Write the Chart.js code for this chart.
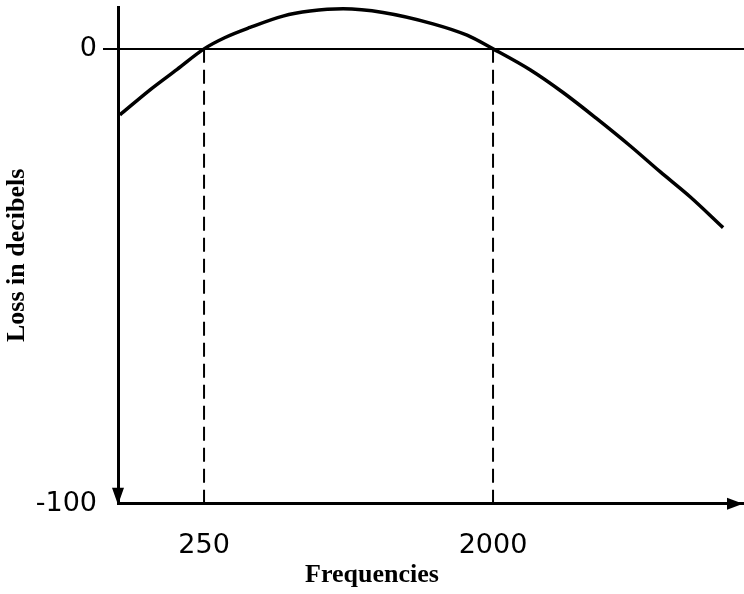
<!DOCTYPE html>
<html>
<head>
<meta charset="utf-8">
<script src="https://cdn.jsdelivr.net/npm/chart.js@4.4.1/dist/chart.umd.min.js"></script>
<style>
  html, body { margin: 0; padding: 0; background: #fff; }
  canvas { display: block; }
</style>
</head>
<body>
<canvas id="c" width="744" height="594"></canvas>
<script>
// Frequencies (Hz) along the curve and loss in decibels
const frequencies = [136.5, 169.5, 206, 250, 291, 348, 441, 536, 680, 906, 1298, 1659, 2000, 2610, 3310, 4228, 5360, 6652, 8255, 10470];
const lossDb      = [-14.5, -9.0, -4.5, 0, 2.5, 4.7, 7.2, 8.3, 8.8, 8.0, 5.5, 3.0, 0, -4.6, -9.6, -15.4, -21.3, -27.0, -32.5, -39.3];
// Marked crossover frequencies (dashed lines)
const markedFreqs = [250, 2000];
// Tick labels
const xTicks = [250, 2000];
const yTicks = [0, -100];
const xMin = 134.6, xMax = 12170;
const yMin = -100, yMax = 9.2;

const curve = frequencies.map((f, i) => ({ x: f, y: lossDb[i] }));
const dashSets = markedFreqs.map(f => ({
  data: [{ x: f, y: 0 }, { x: f, y: yMin }],
  borderColor: '#000',
  borderWidth: 2,
  borderDash: [14, 7],
  pointRadius: 0,
  fill: false,
  tension: 0
}));

const arrows = {
  id: 'arrows',
  afterDraw(chart) {
    const { ctx, chartArea } = chart;
    const xs = chart.scales.x, ys = chart.scales.y;
    ctx.save();
    ctx.fillStyle = '#000';
    // down arrow at bottom of y axis
    const ax = ys.right, ay = chartArea.bottom + 1;
    ctx.beginPath();
    ctx.moveTo(ax, ay);
    ctx.lineTo(ax - 6, ay - 17);
    ctx.lineTo(ax + 6, ay - 17);
    ctx.closePath();
    ctx.fill();
    // right arrow at end of x axis
    const bx = chartArea.right - 1, by = xs.top;
    ctx.beginPath();
    ctx.moveTo(bx, by);
    ctx.lineTo(bx - 16, by - 6);
    ctx.lineTo(bx - 16, by + 6);
    ctx.closePath();
    ctx.fill();
    ctx.restore();
  }
};

new Chart(document.getElementById('c'), {
  type: 'line',
  data: {
    datasets: [{
      data: curve,
      borderColor: '#000',
      borderWidth: 3.5,
      pointRadius: 0,
      fill: false,
      cubicInterpolationMode: 'monotone'
    }, ...dashSets]
  },
  options: {
    responsive: false,
    animation: false,
    events: [],
    layout: { padding: { top: 7, left: 0, right: 0, bottom: 0 } },
    plugins: {
      legend: { display: false },
      tooltip: { enabled: false },
      title: {
        display: true,
        position: 'bottom',
        text: 'Frequencies',
        color: '#000',
        font: { family: 'Liberation Serif', weight: 'bold', size: 26, lineHeight: 1.2 },
        padding: { top: 0, bottom: 3 }
      }
    },
    scales: {
      x: {
        type: 'logarithmic',
        min: xMin,
        max: xMax,
        bounds: 'data',
        afterBuildTicks: s => { s.ticks = xTicks.map(v => ({ value: v })); },
        afterFit: s => { s.height = 56; s.paddingLeft = 0; s.paddingRight = 0; },
        grid: { display: false, drawTicks: false },
        border: { display: true, color: '#000', width: 3 },
        ticks: {
          autoSkip: false,
          maxRotation: 0,
          padding: 26,
          color: '#000',
          font: { family: 'DejaVu Sans', size: 27 },
          callback: v => String(v)
        }
      },
      y: {
        type: 'linear',
        min: yMin,
        max: yMax,
        bounds: 'data',
        afterBuildTicks: s => { s.ticks = yTicks.map(v => ({ value: v })); },
        afterFit: s => { s.width = 118; s.paddingTop = 0; s.paddingBottom = 0; },
        grid: {
          display: true,
          drawTicks: true,
          tickLength: 15,
          lineWidth: 2,
          color: c => (c.tick && c.tick.value === 0) ? '#000' : 'rgba(0,0,0,0)',
          tickColor: c => (c.tick && c.tick.value === 0) ? '#000' : 'rgba(0,0,0,0)'
        },
        border: { display: true, color: '#000', width: 3 },
        ticks: {
          autoSkip: false,
          padding: 6,
          color: '#000',
          font: { family: 'DejaVu Sans', size: 27 },
          callback: v => String(v)
        },
        title: {
          display: true,
          text: 'Loss in decibels',
          color: '#000',
          font: { family: 'Liberation Serif', weight: 'bold', size: 26, lineHeight: 1.2 },
          padding: { top: 2, bottom: 0 }
        }
      }
    }
  },
  plugins: [arrows]
});
</script>
</body>
</html>
